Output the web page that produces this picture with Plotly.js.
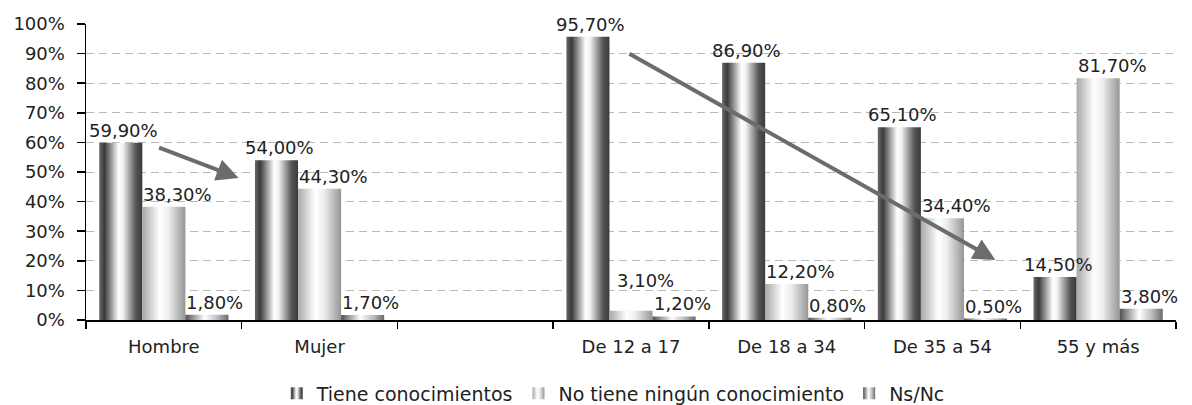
<!DOCTYPE html>
<html>
<head>
<meta charset="utf-8">
<script src="https://cdn.plot.ly/plotly-3.0.1.min.js"></script>
<style>html,body{margin:0;padding:0;background:#fff;}</style>
</head>
<body>
<div id="chart" style="width:1192px;height:405px;"></div>
<script>
// ---- data ----
const categories = ['Hombre', 'Mujer', ' ', 'De 12 a 17', 'De 18 a 34', 'De 35 a 54', '55 y más'];
const tiene     = [59.9, 54.0, null, 95.7, 86.9, 65.1, 14.5];
const noTiene   = [38.3, 44.3, null, 3.1, 12.2, 34.4, 81.7];
const nsnc      = [1.8, 1.7, null, 1.2, 0.8, 0.5, 3.8];
const seriesNames = ['Tiene conocimientos', 'No tiene ningún conocimiento', 'Ns/Nc'];
const yTickVals = [0, 10, 20, 30, 40, 50, 60, 70, 80, 90, 100];
const yTickText = ['0%', '10%', '20%', '30%', '40%', '50%', '60%', '70%', '80%', '90%', '100%'];
// trend arrows: [tailX, tailY, headX, headY] (x in category index units, y in %)
const arrowSexo = [-0.04, 58.4, 0.48, 48.0];
const arrowEdad = [2.98, 90.2, 5.34, 20.3];

const seriesValues = [tiene, noTiene, nsnc];
const FONT = 'DejaVu Sans, Liberation Sans, Arial, sans-serif';
const TXT = '#222222';
const FS = 18;
const BARGAP = 0.17;
const labelShift = [3, 14, 8];

const M = {l: 86, r: 16, t: 24, b: 85};
const plotH = 405 - M.t - M.b;
const pxPerPct = plotH / 100;
const labelH = 19;

const traces = seriesValues.map((vals, i) => ({
  type: 'bar',
  name: seriesNames[i],
  x: categories,
  y: vals,
  marker: {color: ['#555555', '#cccccc', '#888888'][i], line: {width: 0}},
  hoverinfo: 'skip'
}));

function fmt(v) { return v.toFixed(2).replace('.', ',') + '%'; }

const annotations = [];
const barUnit = (1 - BARGAP) / 3;
categories.forEach((c, ci) => {
  // raise a label if it would collide with the label of the bar to its right
  const shifts = [0, 0, 0];
  for (let s = 1; s >= 0; s--) {
    const v = seriesValues[s][ci], w = seriesValues[s + 1][ci];
    if (v === null || w === null) continue;
    const bottomS = v * pxPerPct + shifts[s];
    const bottomN = w * pxPerPct + shifts[s + 1];
    if (Math.abs(bottomS - bottomN) < labelH + 4) {
      shifts[s] = bottomN + labelH + 4 - v * pxPerPct;
    }
  }
  seriesValues.forEach((vals, s) => {
    const v = vals[ci];
    if (v === null) return;
    annotations.push({
      x: ci + (s - 1) * barUnit, y: v, xref: 'x', yref: 'y',
      text: fmt(v), showarrow: false, yanchor: 'bottom', xanchor: 'center',
      xshift: labelShift[s], yshift: shifts[s],
      font: {family: FONT, size: FS, color: TXT}
    });
  });
});
[arrowSexo, arrowEdad].forEach(a => {
  annotations.push({
    x: a[2], y: a[3], ax: a[0], ay: a[1], xref: 'x', yref: 'y', axref: 'x', ayref: 'y',
    text: '', showarrow: true, arrowhead: 2, arrowsize: 1.1, arrowwidth: 4,
    arrowcolor: '#6c6c6c', standoff: 0, startstandoff: 0
  });
});

const layout = {
  width: 1192, height: 405,
  margin: {l: M.l, r: M.r, t: M.t, b: M.b, autoexpand: false},
  paper_bgcolor: '#ffffff', plot_bgcolor: '#ffffff',
  barmode: 'group', bargap: BARGAP, bargroupgap: 0,
  font: {family: FONT, size: FS, color: TXT},
  showlegend: true,
  legend: {orientation: 'h', x: 0.175, xanchor: 'left', y: -0.248, yanchor: 'middle',
           font: {family: FONT, size: 19, color: TXT}, itemclick: false, traceorder: 'normal'},
  xaxis: {
    type: 'category', categoryorder: 'array', categoryarray: categories,
    range: [-0.5, 6.5],
    showline: true, linecolor: '#000', linewidth: 1.5,
    ticks: 'outside', tickson: 'boundaries', ticklen: 7, tickcolor: '#000', tickwidth: 1.5,
    ticklabelstandoff: 10,
    showgrid: false, zeroline: false,
    tickfont: {family: FONT, size: FS, color: TXT}
  },
  yaxis: {
    range: [0, 100], tickmode: 'array', tickvals: yTickVals, ticktext: yTickText,
    showline: true, linecolor: '#000', linewidth: 1.5,
    ticks: 'outside', ticklen: 8, tickcolor: '#000', tickwidth: 1.5,
    ticklabelstandoff: 8,
    showgrid: true, gridcolor: '#b8b8b8', gridwidth: 1, griddash: '8px,5px',
    zeroline: false,
    tickfont: {family: FONT, size: FS, color: TXT}
  },
  annotations: annotations
};

const gradStops = [
  [[0, '#6a6a6a'], [0.12, '#3a3a3a'], [0.45, '#ffffff'], [0.55, '#f2f2f2'], [0.85, '#555555'], [1, '#3a3a3a']],
  [[0, '#a8a8a8'], [0.4, '#ffffff'], [0.6, '#eeeeee'], [1, '#969696']],
  [[0, '#505050'], [0.45, '#ffffff'], [0.75, '#bbbbbb'], [1, '#6a6a6a']]
];

function applyGradients(gd) {
  const svg = gd.querySelector('.main-svg');
  if (!svg) return;
  let defs = svg.querySelector('#customGradDefs');
  if (!defs) {
    const NS = 'http://www.w3.org/2000/svg';
    defs = document.createElementNS(NS, 'defs');
    defs.setAttribute('id', 'customGradDefs');
    gradStops.forEach((stops, i) => {
      const lg = document.createElementNS(NS, 'linearGradient');
      lg.setAttribute('id', 'barGrad' + i);
      lg.setAttribute('x1', '0'); lg.setAttribute('x2', '1');
      lg.setAttribute('y1', '0'); lg.setAttribute('y2', '0');
      stops.forEach(s => {
        const st = document.createElementNS(NS, 'stop');
        st.setAttribute('offset', s[0]);
        st.setAttribute('stop-color', s[1]);
        lg.appendChild(st);
      });
      defs.appendChild(lg);
    });
    svg.insertBefore(defs, svg.firstChild);
  }
  gd.querySelectorAll('.barlayer .trace').forEach((t, i) => {
    t.querySelectorAll('path').forEach(p => { p.style.fill = 'url(#barGrad' + i + ')'; });
  });
  gd.querySelectorAll('.legend .traces').forEach((t, i) => {
    t.querySelectorAll('.legendpoints path').forEach(p => {
      p.style.fill = 'url(#barGrad' + i + ')';
      p.style.stroke = 'none';
    });
  });
}

const gd = document.getElementById('chart');
Plotly.newPlot(gd, traces, layout, {staticPlot: true, displayModeBar: false}).then(() => {
  applyGradients(gd);
  gd.on && gd.on('plotly_afterplot', () => applyGradients(gd));
});
</script>
</body>
</html>
